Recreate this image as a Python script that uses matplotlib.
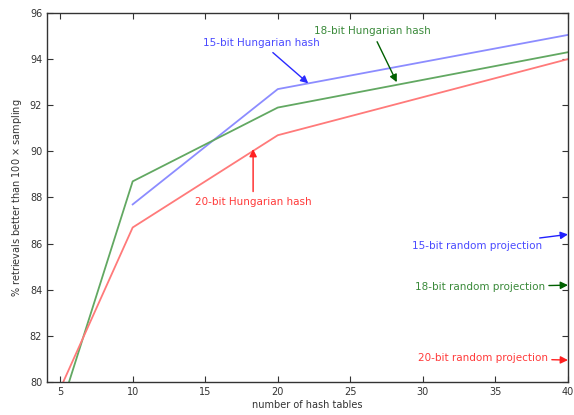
import matplotlib.pyplot as plt

# number of hash tables
x_blue = [10, 20, 40]
x_other = [4, 10, 20, 40]

# % retrievals better than 100 x sampling
hung15 = [87.7, 92.7, 95.05]
hung18 = [76.8, 88.7, 91.9, 94.3]
hung20 = [78.3, 86.7, 90.7, 94.0]

# random projection results (at 40 tables)
rp_x = 40
rp15 = 86.4
rp18 = 84.2
rp20 = 80.95

fig = plt.figure(figsize=(5.74, 4.15), dpi=100)
ax = fig.add_axes([0.082, 0.0795, 0.9075, 0.8892])

ax.plot(x_blue, hung15, color='#8c8cff', lw=1.3)
ax.plot(x_other, hung18, color='#62a862', lw=1.3)
ax.plot(x_other, hung20, color='#ff7a7a', lw=1.3)

ax.set_xlim(4.1, 40)
ax.set_ylim(80, 96)
ax.set_xticks([5, 10, 15, 20, 25, 30, 35, 40])
ax.set_yticks(range(80, 97, 2))
ax.tick_params(direction='in', length=4, top=True, right=True,
               labelsize=7, colors='#333333', width=0.8)
for s in ax.spines.values():
    s.set_color('#333333')
    s.set_linewidth(1.0)

ax.set_xlabel('number of hash tables', fontsize=7, color='#333333', labelpad=2)
ax.set_ylabel('% retrievals better than 100 $\\times$ sampling', fontsize=7, color='#333333')

fs = 7.5
arrow = dict(arrowstyle='-|>', lw=1, mutation_scale=11, shrinkA=2, shrinkB=0)

# Hungarian hash labels
ax.annotate('15-bit Hungarian hash', xy=(22.1, 92.95), xytext=(18.9, 94.7),
            fontsize=fs, color='#4a4aff', ha='center', va='center',
            arrowprops=dict(arrow, color='#2a2aff'))
ax.annotate('18-bit Hungarian hash', xy=(28.2, 93.0), xytext=(26.5, 95.2),
            fontsize=fs, color='#3a8a3a', ha='center', va='center',
            arrowprops=dict(arrow, color='#006000'))
ax.annotate('20-bit Hungarian hash', xy=(18.3, 90.1), xytext=(18.3, 87.8),
            fontsize=fs, color='#ff3a3a', ha='center', va='center',
            arrowprops=dict(arrow, color='#ff2020'))

# random projection labels
ax.annotate('15-bit random projection', xy=(rp_x, rp15), xytext=(38.2, 85.9),
            fontsize=fs, color='#4a4aff', ha='right', va='center',
            arrowprops=dict(arrow, color='#2020ff', shrinkA=1))
ax.annotate('18-bit random projection', xy=(rp_x, rp18), xytext=(38.4, 84.12),
            fontsize=fs, color='#3a8a3a', ha='right', va='center',
            arrowprops=dict(arrow, color='#006000', shrinkA=1))
ax.annotate('20-bit random projection', xy=(rp_x, rp20), xytext=(38.6, 81.04),
            fontsize=fs, color='#ff3a3a', ha='right', va='center',
            arrowprops=dict(arrow, color='#ff2020', shrinkA=1))

fig.savefig('out.png', dpi=100)
